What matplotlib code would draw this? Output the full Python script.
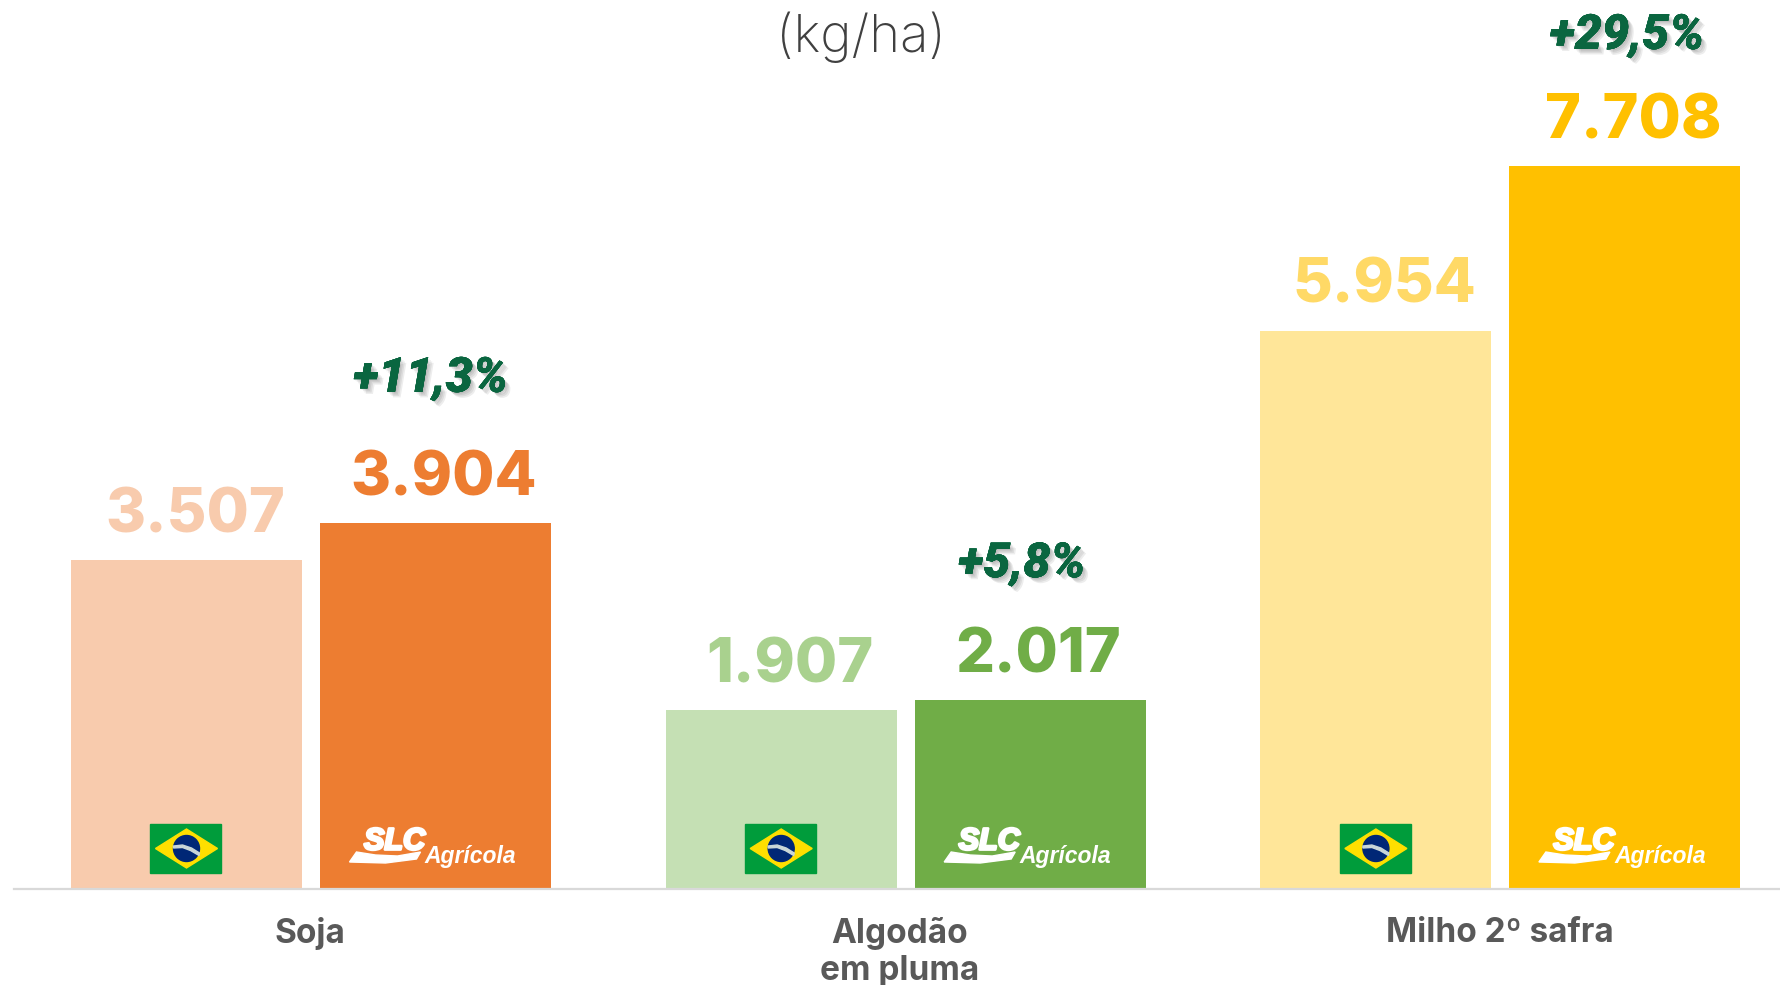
# -*- coding: utf-8 -*-
import numpy as np
import matplotlib
matplotlib.use('Agg')
import matplotlib.pyplot as plt
import matplotlib.patheffects as pe
from matplotlib.patches import Rectangle, Polygon, Circle
from matplotlib.transforms import Affine2D

#%% Donnees
cultures = ['Soja', 'Algodão\nem pluma', 'Milho 2º safra']
brasil = [3507, 1907, 5954]
slc = [3904, 2017, 7708]
labels_brasil = ['3.507', '1.907', '5.954']
labels_slc = ['3.904', '2.017', '7.708']
ecarts = ['+11,3%', '+5,8%', '+29,5%']

couleurs_brasil = ['#F8CBAD', '#C5E0B4', '#FFE699']
couleurs_slc = ['#ED7D31', '#70AD47', '#FFC000']
couleurs_txt_brasil = ['#F8CBAD', '#A9D18E', '#FFD966']
vert_ecart = '#0A6640'
gris = '#595959'

#%% Mise en page (pixels de la figure)
W, H = 1781, 985
base_px = 889
gauche_px = 14
px_par_kg = 0.0938
centre0 = 311
pas = 594.7
largeur = 231 / pas
ecart_barres = 18 / pas

fig = plt.figure(figsize=(W / 100, H / 100), dpi=100, facecolor='white')
ax = fig.add_axes([gauche_px / W, (H - base_px) / H, (W - gauche_px) / W, base_px / H])
ax.set_xlim((gauche_px - centre0) / pas, (W - centre0) / pas)
ax.set_ylim(0, base_px / px_par_kg)
for s in ['top', 'left', 'right']:
    ax.spines[s].set_visible(False)
ax.spines['bottom'].set_color('#D9D9D9')
ax.spines['bottom'].set_linewidth(1.6)
ax.set_yticks([])

x = np.arange(len(cultures))
x_b = x - (largeur + ecart_barres) / 2
x_s = x + (largeur + ecart_barres) / 2

ax.bar(x_b, brasil, largeur, color=couleurs_brasil, zorder=2)
ax.bar(x_s, slc, largeur, color=couleurs_slc, zorder=2)

#%% Categories
ax.set_xticks(x + np.array([-1, -6, -1]) / pas)
ax.set_xticklabels(cultures, fontfamily='Inter', fontweight='bold', fontsize=24, color=gris, linespacing=1.22)
ax.tick_params(axis='x', length=0, pad=20)

#%% Valeurs et ecarts
font_val = dict(family='Inter', fontweight='heavy', fontsize=44, ha='center', va='center')
for i in x:
    ax.annotate(labels_brasil[i], (x_b[i], brasil[i]), xytext=(6, 31.5), textcoords='offset points',
                color=couleurs_txt_brasil[i], **font_val)
    ax.annotate(labels_slc[i], (x_s[i], slc[i]), xytext=(6, 31.5), textcoords='offset points',
                color=couleurs_slc[i], **font_val)

decal_x = [-3.5, -6, 1.5]
decal_y = [104, 98, 94]
ombre = [pe.withSimplePatchShadow(offset=(d, -d), shadow_rgbFace='#000000', alpha=0.07) for d in (1, 2, 3, 4)] + [pe.Normal()]
for i in x:
    ax.annotate(ecarts[i], (x_s[i], slc[i]), xytext=(decal_x[i], decal_y[i]), textcoords='offset points',
                family='Roboto', fontweight='black', style='italic', fontsize=35, ha='center', va='center',
                color=vert_ecart, path_effects=ombre, annotation_clip=False)

fig.text(861 / W, 1 - 37 / H, '(kg/ha)', family='Inter', fontweight='light', fontsize=38,
         color='#404040', ha='center', va='center')


#%% Drapeau et logo dessines en pixels autour du pied de chaque barre
def repere(xc):
    return Affine2D().translate(*ax.transData.transform((xc, 0)))


def drapeau(xc):
    tr = repere(xc)
    ax.add_artist(Rectangle((-36, 16), 71, 49, color='#009C3B', transform=tr, zorder=3))
    ax.add_artist(Polygon([(-31, 40.5), (0, 60), (31, 40.5), (0, 21)], color='#FFDF00', transform=tr, zorder=4))
    ax.add_artist(Circle((0, 40.5), 13, color='#002776', transform=tr, zorder=5))
    ax.add_artist(Polygon([(-13, 43), (-4, 44), (5, 41), (13, 36), (12.5, 33.5), (4, 38.5), (-4, 41.5), (-13, 41)],
                          color='#C9D6D8', transform=tr, zorder=6))


def logo(xc):
    tr = repere(xc)
    sx, sy = ax.transData.transform((xc, 0))
    ax.add_artist(Polygon([(-86, 27), (-79, 37), (-60, 34), (-38, 33), (-15, 37), (-19, 30), (-50, 26)],
                          color='white', transform=tr, zorder=3))
    fig.text((sx - 41) / W, (sy + 47.5) / H, 'SLC', family='Liberation Sans', fontweight='bold', style='italic',
             fontsize=22, color='white', ha='center', va='center', zorder=4,
             path_effects=[pe.withStroke(linewidth=2, foreground='white')])
    fig.text((sx + 35) / W, (sy + 32) / H, 'Agrícola', family='Liberation Sans', fontweight='bold', style='italic',
             fontsize=16.5, color='white', ha='center', va='center', zorder=4)


for i in x:
    drapeau(x_b[i])
    logo(x_s[i])

fig.savefig('out.png', dpi=100, facecolor='white')
